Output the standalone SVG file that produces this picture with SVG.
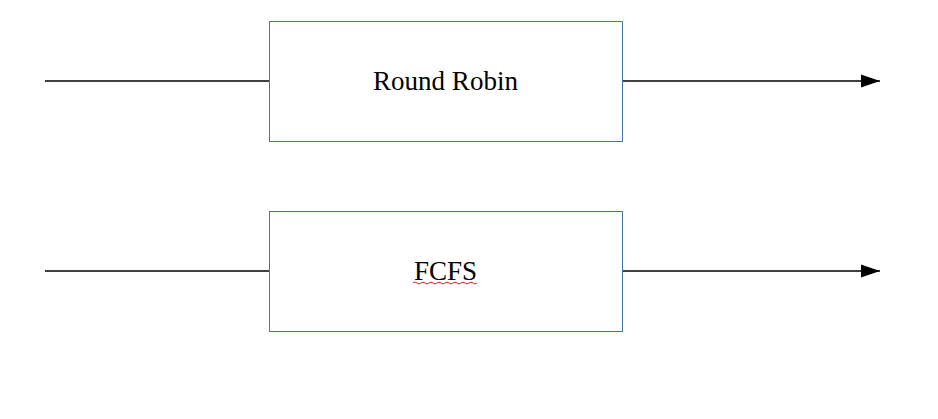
<svg xmlns="http://www.w3.org/2000/svg" width="938" height="419" viewBox="0 0 938 419">
<style>
.box{fill:#ffffff;stroke:#4a73b5;stroke-width:1}
.lbl{font-family:"Liberation Serif","Times New Roman",serif;font-size:27px;fill:#000;text-anchor:middle}
.conn{stroke:#000;stroke-width:1.3;fill:none}
</style>
<defs>
<marker id="arr" markerUnits="userSpaceOnUse" markerWidth="20" markerHeight="14" refX="19" refY="7" orient="auto">
<path d="M0,0.5 L19,7 L0,13.5 Z" fill="#000"/>
</marker>
</defs>
<rect width="938" height="419" fill="#ffffff"/>
<g id="connectors">
<line class="conn" x1="45" y1="81" x2="269" y2="81"/>
<line class="conn" x1="622" y1="81" x2="880" y2="81" marker-end="url(#arr)"/>
<line class="conn" x1="45" y1="271" x2="269" y2="271"/>
<line class="conn" x1="622" y1="271" x2="880" y2="271" marker-end="url(#arr)"/>
</g>
<g id="round-robin">
<rect class="box" x="269.5" y="21.5" width="353" height="120"/>
<text class="lbl" x="445.5" y="90">Round Robin</text>
</g>
<g id="fcfs">
<rect class="box" x="269.5" y="211.5" width="353" height="120"/>
<text class="lbl" x="445.5" y="280">FCFS</text>
<path d="M413,283 q2,-2 4,0 t4,0 t4,0 t4,0 t4,0 t4,0 t4,0 t4,0 t4,0 t4,0 t4,0 t4,0 t4,0 t4,0 t4,0 t4,0" fill="none" stroke="#e02020" stroke-width="1"/>
</g>
</svg>
